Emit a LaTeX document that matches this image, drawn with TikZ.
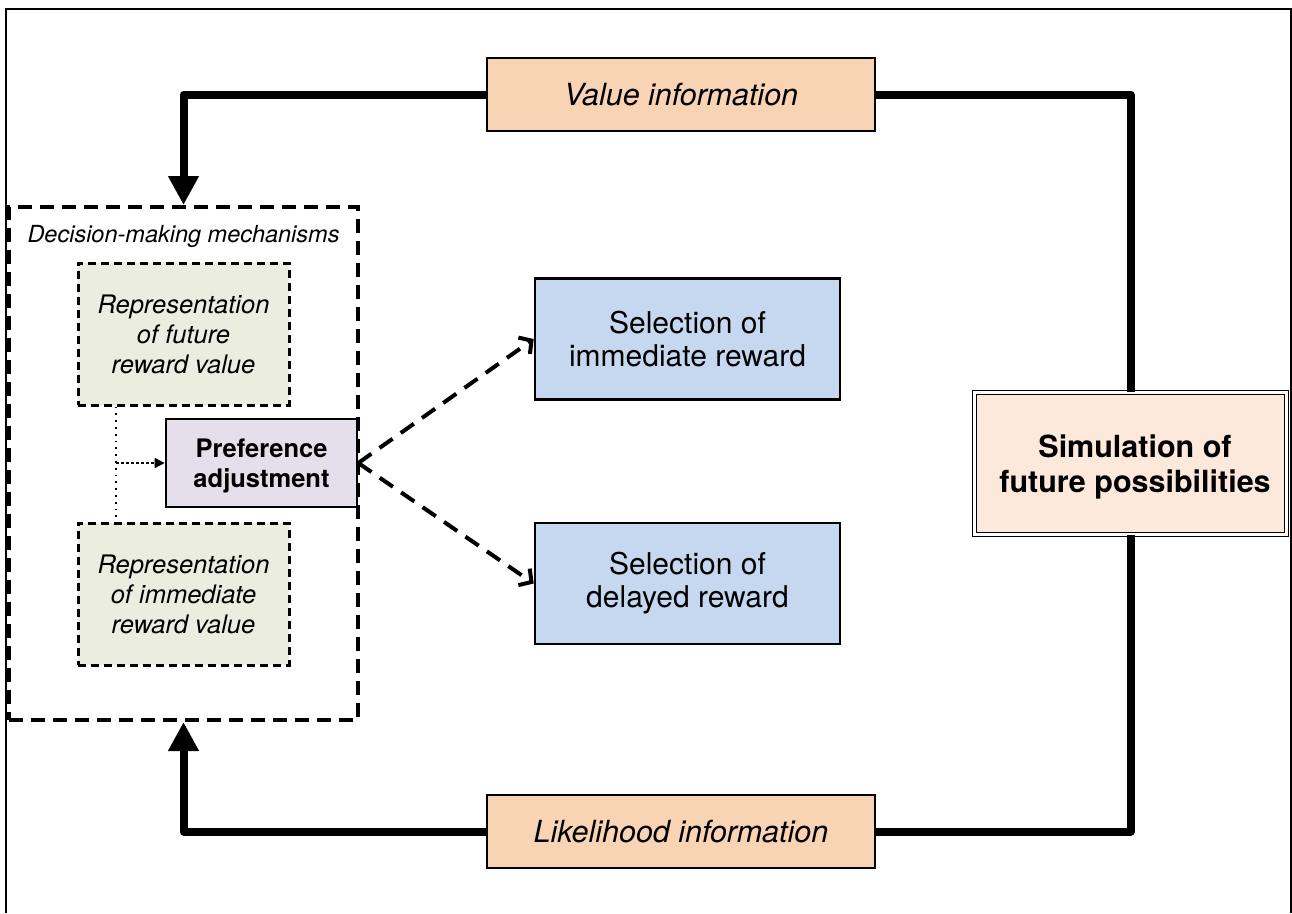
\documentclass[tikz,border=0pt]{standalone}
\usepackage{fontspec}
\setmainfont{TeX Gyre Heros}
\usetikzlibrary{arrows.meta}
\definecolor{infofill}{HTML}{F9D4B4}
\definecolor{simfill}{HTML}{FDE9DB}
\definecolor{reprfill}{HTML}{EBEEDF}
\definecolor{preffill}{HTML}{E4DFEB}
\definecolor{selfill}{HTML}{C6D8EF}
\tikzset{
  box/.style={draw, line width=2.6pt, inner sep=0pt, align=center},
  infobox/.style={box, fill=infofill, minimum width=388pt, minimum height=73pt,
    font=\fontsize{30.5}{34}\selectfont\itshape},
  selbox/.style={box, fill=selfill, minimum width=305pt, minimum height=121pt,
    font=\fontsize{30}{33}\selectfont},
  reprbox/.style={draw, line width=3pt, dash pattern=on 8pt off 5pt, fill=reprfill,
    inner sep=0pt, align=center, minimum width=211pt, minimum height=142pt,
    font=\fontsize{25.5}{30}\selectfont\itshape},
  prefbox/.style={box, fill=preffill, minimum width=191pt, minimum height=88pt,
    font=\fontsize{25.5}{30}\selectfont\bfseries},
  simbox/.style={draw, double, line width=1.6pt, double distance=2.6pt, fill=simfill,
    inner sep=0pt, align=center, minimum width=312pt, minimum height=142pt,
    font=\fontsize{30.5}{35}\selectfont\bfseries},
  groupbox/.style={draw, line width=4pt, dash pattern=on 14pt off 8pt,
    inner sep=0pt, minimum width=349pt, minimum height=513pt},
  flow/.style={line width=8pt, line join=round, -{Triangle[width=29pt,length=29pt]}},
  link/.style={line width=8pt, line join=round},
  choice/.style={line width=4pt, dash pattern=on 16pt off 10pt,
    -{Straight Barb[length=9pt,width=20pt]}},
  tie/.style={line width=1.8pt, dash pattern=on 1.8pt off 5pt},
  feed/.style={line width=1.5pt, dash pattern=on 3pt off 2pt,
    -{Triangle[width=10pt,length=10pt]}}
}
\begin{document}
\begin{tikzpicture}[x=1pt,y=-1pt]
\useasboundingbox (0,0) rectangle (1292,913);
\fill[white] (0,0) rectangle (1292,913);

% outer frame, open at the bottom
\draw[line width=2pt] (6,913) -- (6,9) -- (1291,9) -- (1291,913);

% decision-making group and its contents
\node[groupbox] (dm) at (183.5,463.5) {};
\node[font=\fontsize{23.5}{28}\selectfont\itshape] (dmlabel) at (183.5,236) {Decision-making mechanisms};
\node[reprbox] (rf) at (183.5,334) {Representation\\of future\\reward value};
\node[reprbox] (ri) at (183.5,594) {Representation\\of immediate\\reward value};
\node[prefbox] (pa) at (261.5,463) {};
\node[font=\fontsize{25.5}{30}\selectfont\bfseries, align=center] (patext) at (261.5,466) {Preference\\adjustment};

% choices
\node[selbox] (si) at (687.5,339) {Selection of\\immediate reward};
\node[selbox] (sd) at (687.5,583.5) {Selection of\\delayed reward};

% information boxes and simulation
\node[infobox] (vi) at (681,94.5) {Value information};
\node[infobox] (li) at (681,831.5) {Likelihood information};
\node[simbox] (sim) at (1130.5,463.5) {};
\node[font=\fontsize{30.5}{35}\selectfont\bfseries, align=center] (simtext) at (1135,466.5) {Simulation of\\future possibilities};

% feedback loop
\draw[flow] (vi.west) -| (dm.north);
\draw[link] (vi.east) -| (sim.north);
\draw[flow] (li.west) -| (dm.south);
\draw[link] (li.east) -| (sim.south);

% links inside the group
\coordinate (tap) at (116,463);
\draw[tie] (tap |- rf.south) -- (tap |- ri.north);
\draw[feed] (tap) -- (pa.west);

% preference adjustment to the two selections
\draw[choice] (pa.east) -- (si.west);
\draw[choice] (pa.east) -- (sd.west);
\end{tikzpicture}
\end{document}
